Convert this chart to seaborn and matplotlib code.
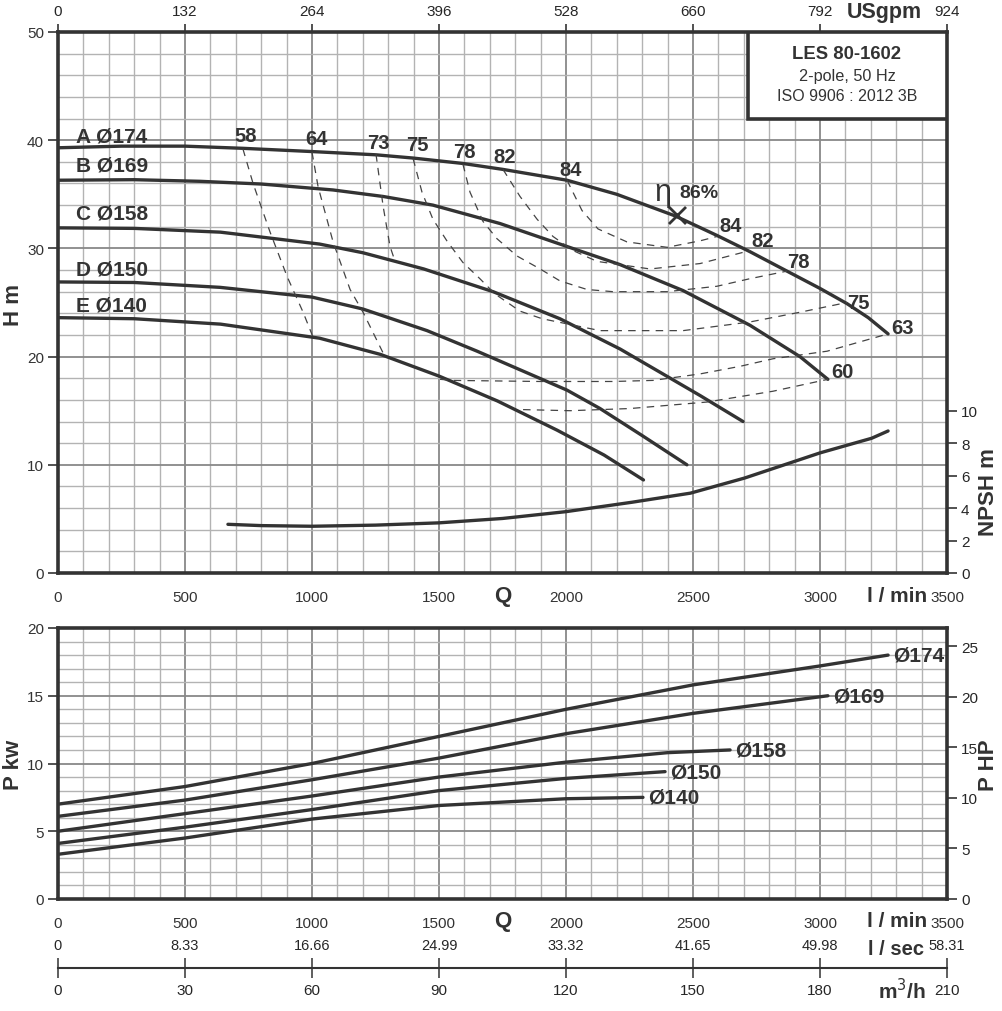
import numpy as np
import pandas as pd
import matplotlib
matplotlib.use("Agg")
import matplotlib.pyplot as plt
import seaborn as sns
from matplotlib.ticker import MultipleLocator, FixedLocator
from matplotlib.patches import Rectangle

impeller_labels = ['A Ø174', 'B Ø169', 'C Ø158', 'D Ø150', 'E Ø140']
power_labels = ['Ø174', 'Ø169', 'Ø158', 'Ø150', 'Ø140']

# Curvas H x Q (l/min, m)
q_a = [0, 250, 500, 728, 1000, 1252, 1398, 1594, 1752, 2004, 2200, 2430, 2594, 2724, 2870, 3000, 3106, 3190, 3268]
h_a = [39.3, 39.45, 39.45, 39.25, 38.95, 38.65, 38.35, 37.85, 37.3, 36.3, 35.0, 33.0, 31.2, 29.7, 27.9, 26.3, 24.9, 23.6, 22.1]
q_b = [0, 300, 560, 800, 1083, 1280, 1476, 1740, 1976, 2213, 2461, 2724, 2921, 3031]
h_b = [36.3, 36.35, 36.2, 35.95, 35.4, 34.8, 34.0, 32.3, 30.4, 28.5, 26.1, 22.9, 20.0, 17.9]
q_c = [0, 300, 640, 1030, 1200, 1440, 1713, 1976, 2213, 2528, 2697]
h_c = [31.9, 31.85, 31.5, 30.4, 29.6, 28.1, 26.0, 23.5, 20.7, 16.4, 14.0]
q_d = [0, 300, 638, 1000, 1200, 1453, 1650, 2004, 2134, 2300, 2476]
h_d = [26.9, 26.85, 26.4, 25.5, 24.4, 22.4, 20.5, 16.9, 15.2, 12.7, 10.0]
q_e = [0, 300, 640, 1030, 1270, 1500, 1730, 1965, 2150, 2305]
h_e = [23.6, 23.5, 23.0, 21.7, 20.2, 18.2, 15.9, 13.2, 10.9, 8.6]

# Curvas de iso-rendimento (%)
eff_58_q = [728, 768, 835, 902, 965, 1004]
eff_58_h = [39.2, 36.0, 31.5, 27.4, 24.1, 21.8]
eff_64_q = [1000, 1024, 1083, 1150, 1201, 1287]
eff_64_h = [38.9, 35.7, 30.6, 26.2, 24.1, 20.0]
eff_73_q = [1252, 1280, 1307, 1327]
eff_73_h = [38.7, 33.9, 30.2, 28.8]
eff_75_q = [1398, 1433, 1476, 1531, 1594, 1661, 1720, 1819, 1906, 2134, 2461, 2724, 2921, 3106]
eff_75_h = [38.3, 35.2, 32.7, 30.7, 28.7, 27.2, 25.8, 24.2, 23.5, 22.4, 22.4, 23.2, 24.1, 25.0]
eff_78_q = [1594, 1622, 1673, 1728, 1807, 1898, 1976, 2083, 2185, 2398, 2594, 2724, 2870]
eff_78_h = [37.8, 35.2, 32.5, 30.9, 29.3, 28.1, 27.0, 26.2, 26.0, 26.0, 26.5, 27.2, 27.9]
eff_82_q = [1752, 1819, 1886, 1949, 2028, 2122, 2331, 2528, 2724]
eff_82_h = [37.3, 34.8, 32.7, 31.1, 29.8, 28.8, 28.1, 28.6, 29.8]
eff_84_q = [2004, 2063, 2126, 2240, 2398, 2528, 2594]
eff_84_h = [36.3, 33.5, 31.8, 30.6, 30.1, 30.7, 31.1]
eff_63_q = [1504, 1555, 1898, 2185, 2343, 2528, 2685, 2815, 3028, 3268]
eff_63_h = [17.9, 17.8, 17.7, 17.7, 17.8, 18.4, 19.1, 19.8, 20.5, 22.1]
eff_60_q = [1831, 2016, 2252, 2555, 2815, 3031]
eff_60_h = [15.1, 15.0, 15.2, 15.8, 16.8, 17.9]

eff_left_labels = ['58', '64', '73', '75', '78', '82', '84']
eff_right_labels = ['84', '82', '78', '75', '63', '60']

# Ponto de melhor rendimento
bep_q = [2437]
bep_h = [33.1]
bep_label = '86%'

# NPSH requerido (m)
npsh_q = [669, 800, 1000, 1250, 1500, 1750, 2000, 2260, 2490, 2703, 3000, 3203, 3268]
npsh_m = [3.0, 2.92, 2.88, 2.95, 3.09, 3.36, 3.78, 4.36, 4.92, 5.85, 7.4, 8.3, 8.75]

# Potencia absorvida (kW)
p_q_174 = [0, 500, 1000, 1500, 2000, 2500, 3000, 3268]
p_174 = [7.0, 8.3, 10.0, 12.0, 14.0, 15.8, 17.2, 18.0]
p_q_169 = [0, 500, 1000, 1500, 2000, 2500, 3031]
p_169 = [6.1, 7.3, 8.8, 10.4, 12.2, 13.7, 15.0]
p_q_158 = [0, 500, 1000, 1500, 2000, 2400, 2646]
p_158 = [5.0, 6.3, 7.6, 9.0, 10.1, 10.8, 11.0]
p_q_150 = [0, 500, 1000, 1500, 2000, 2390]
p_150 = [4.1, 5.3, 6.6, 8.0, 8.9, 9.4]
p_q_140 = [0, 500, 1000, 1500, 2000, 2303]
p_140 = [3.3, 4.5, 5.9, 6.9, 7.4, 7.5]

q_ticks = [0, 500, 1000, 1500, 2000, 2500, 3000, 3500]
gpm_labels = ['0', '132', '264', '396', '528', '660', '792', '924']
lsec_labels = ['0', '8.33', '16.66', '24.99', '33.32', '41.65', '49.98', '58.31']
m3h_labels = ['0', '30', '60', '90', '120', '150', '180', '210']

#---------- Estilo ----------

sns.set_style("white")
plt.rcParams['font.family'] = ['Liberation Sans', 'DejaVu Sans']
INK = '#333333'
plt.rcParams['text.color'] = INK
plt.rcParams['axes.edgecolor'] = INK

fig = plt.figure(figsize=(10.03, 10.12), dpi=100)
W, H = 1003, 1012
ax = fig.add_axes([58 / W, 1 - 574 / H, 889 / W, 541 / H])
axp = fig.add_axes([58 / W, 1 - 900 / H, 889 / W, 271 / H])


def style_grid(a, xminor, yminor, xmajor, ymajor):
    a.xaxis.set_major_locator(MultipleLocator(xmajor))
    a.yaxis.set_major_locator(MultipleLocator(ymajor))
    a.xaxis.set_minor_locator(MultipleLocator(xminor))
    a.yaxis.set_minor_locator(MultipleLocator(yminor))
    a.grid(which='minor', color='#b3b3b3', lw=1.0)
    a.grid(which='major', color='#888888', lw=1.3)
    a.set_axisbelow(True)
    a.tick_params(which='minor', length=0)
    a.tick_params(which='major', direction='out', length=7, width=1.2, color=INK,
                  labelsize=11, labelcolor=INK, pad=3)
    for s in a.spines.values():
        s.set_linewidth(2.6)
        s.set_color(INK)


#---------- Grafico H x Q ----------

style_grid(ax, 100, 2, 500, 10)
ax.set_xlim(0, 3500)
ax.set_ylim(0, 50)
ax.tick_params(axis='x', pad=5)

curves = [(q_a, h_a), (q_b, h_b), (q_c, h_c), (q_d, h_d), (q_e, h_e)]
for q, h in curves:
    sns.lineplot(x=q, y=h, ax=ax, color=INK, lw=2.4, sort=False, estimator=None)

eff_lines = [(eff_58_q, eff_58_h), (eff_64_q, eff_64_h), (eff_73_q, eff_73_h),
             (eff_75_q, eff_75_h), (eff_78_q, eff_78_h), (eff_82_q, eff_82_h),
             (eff_84_q, eff_84_h), (eff_63_q, eff_63_h), (eff_60_q, eff_60_h)]
for q, h in eff_lines:
    sns.lineplot(x=q, y=h, ax=ax, color='#444444', lw=0.9, ls=(0, (6, 5)),
                 sort=False, estimator=None)

sns.scatterplot(x=bep_q, y=bep_h, ax=ax, marker='x', s=150, color=INK, linewidth=2, zorder=5)
ax.text(2382, 35.2, 'η', fontsize=22, ha='center', va='center')
ax.text(2524, 35.2, bep_label, fontsize=14, fontweight='bold', ha='center', va='center')

# rotulos dos rotores
for lab, y in zip(impeller_labels, [40.4, 37.7, 33.3, 28.1, 24.8]):
    ax.text(71, y, lab, fontsize=15, fontweight='bold', ha='left', va='center')

# rotulos de rendimento
left_pos = [(740, 40.4), (1016, 40.2), (1260, 39.8), (1413, 39.6), (1598, 39.0), (1760, 38.5), (2016, 37.3)]
for lab, (x, y) in zip(eff_left_labels, left_pos):
    ax.text(x, y, lab, fontsize=14.5, fontweight='bold', ha='center', va='center')
right_pos = [(2646, 32.1), (2776, 30.7), (2913, 28.8), (3150, 25.0), (3323, 22.7), (3090, 18.6)]
for lab, (x, y) in zip(eff_right_labels, right_pos):
    ax.text(x, y, lab, fontsize=14.5, fontweight='bold', ha='center', va='center')

# caixa de identificacao
ax.add_patch(Rectangle((0.776, 0.839), 0.224, 0.161, transform=ax.transAxes,
                       facecolor='white', edgecolor=INK, lw=2.6, zorder=6))
ax.text(0.8875, 0.96, 'LES 80-1602', transform=ax.transAxes, fontsize=13.3,
        fontweight='bold', ha='center', va='center', zorder=7)
ax.text(0.8875, 0.92, '2-pole, 50 Hz', transform=ax.transAxes, fontsize=11.7,
        ha='center', va='center', zorder=7)
ax.text(0.8875, 0.883, 'ISO 9906 : 2012 3B', transform=ax.transAxes, fontsize=11.5,
        ha='center', va='center', zorder=7)

# eixo superior USgpm
top = ax.secondary_xaxis('top')
top.set_xticks(q_ticks)
top.set_xticklabels(gpm_labels)
top.tick_params(direction='out', length=6, width=1.2, color=INK, labelsize=11, pad=4)
top.spines['top'].set_visible(False)

# eixo NPSH
axn = ax.twinx()
axn.set_ylim(0, 50 / 1.5)
axn.yaxis.set_major_locator(FixedLocator([0, 2, 4, 6, 8, 10]))
axn.tick_params(direction='out', length=7, width=1.2, color=INK, labelsize=11, pad=3)
axn.grid(False)
for s in axn.spines.values():
    s.set_visible(False)
sns.lineplot(x=npsh_q, y=npsh_m, ax=axn, color=INK, lw=2.4, sort=False, estimator=None)
axn.set_ylabel('')
axn.set_xlim(0, 3500)

xform = ax.get_xaxis_transform()
ax.text(1752, -0.041, 'Q', transform=xform, fontsize=16, fontweight='bold', ha='center', va='center')
ax.text(3303, -0.041, 'l / min', transform=xform, fontsize=15, fontweight='bold', ha='center', va='center')
ax.text(3252, 1.037, 'USgpm', transform=xform, fontsize=15.5, fontweight='bold', ha='center', va='center')

fig.text(14 / W, 1 - 305 / H, 'H m', rotation=90, fontsize=16, fontweight='bold', ha='center', va='center')
fig.text(989 / W, 1 - 492 / H, 'NPSH m', rotation=90, fontsize=16, fontweight='bold', ha='center', va='center')

#---------- Grafico P x Q ----------

style_grid(axp, 100, 1, 500, 5)
axp.set_xlim(0, 3500)
axp.set_ylim(0, 20)
axp.tick_params(axis='x', pad=5)

power = [(p_q_174, p_174), (p_q_169, p_169), (p_q_158, p_158), (p_q_150, p_150), (p_q_140, p_140)]
for (q, p), lab in zip(power, power_labels):
    sns.lineplot(x=q, y=p, ax=axp, color=INK, lw=2.4, sort=False, estimator=None)
    axp.text(q[-1] + 20, p[-1], lab, fontsize=15, fontweight='bold', ha='left', va='center')

axh = axp.twinx()
axh.set_ylim(0, 20 * 1.341)
axh.yaxis.set_major_locator(MultipleLocator(5))
axh.tick_params(direction='out', length=7, width=1.2, color=INK, labelsize=11, pad=3)
axh.grid(False)
for s in axh.spines.values():
    s.set_visible(False)

# eixo l/sec
lsec = axp.secondary_xaxis(-0.144)
lsec.set_xticks(q_ticks)
lsec.set_xticklabels(lsec_labels)
lsec.tick_params(length=0, labelsize=10.5, pad=0)
lsec.spines['bottom'].set_visible(False)

# eixo m3/h
m3h = axp.secondary_xaxis(-0.2546)
m3h.set_xticks(q_ticks)
m3h.set_xticklabels(m3h_labels)
m3h.tick_params(direction='inout', length=14, width=1.1, color=INK, labelsize=11, pad=4)
m3h.spines['bottom'].set_linewidth(1.5)
m3h.spines['bottom'].set_color(INK)

xform_p = axp.get_xaxis_transform()
axp.text(1752, -0.081, 'Q', transform=xform_p, fontsize=16, fontweight='bold', ha='center', va='center')
axp.text(3303, -0.081, 'l / min', transform=xform_p, fontsize=15, fontweight='bold', ha='center', va='center')
axp.text(3300, -0.1845, 'l / sec', transform=xform_p, fontsize=14.5, fontweight='bold', ha='center', va='center')
axp.text(3323, -0.336, 'm$^3$/h', transform=xform_p, fontsize=15, fontweight='bold', ha='center', va='center')

fig.text(14 / W, 1 - 765 / H, 'P kw', rotation=90, fontsize=16, fontweight='bold', ha='center', va='center')
fig.text(989 / W, 1 - 765 / H, 'P HP', rotation=90, fontsize=16, fontweight='bold', ha='center', va='center')

fig.savefig('out.png', dpi=100)
